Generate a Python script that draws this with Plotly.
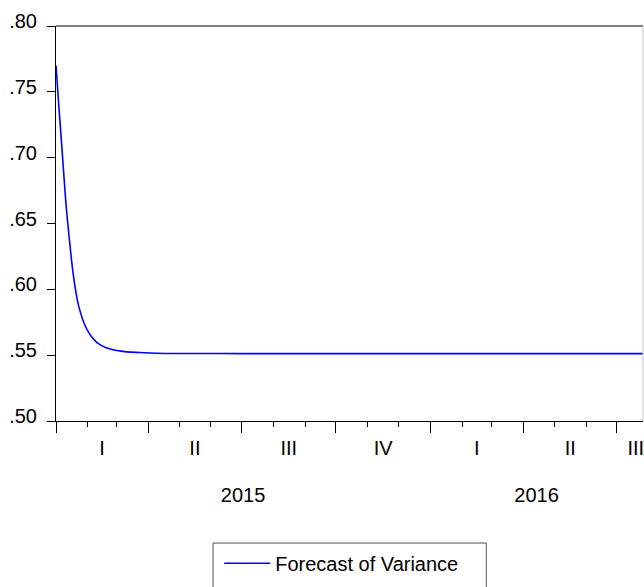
import pandas as pd
import plotly.graph_objects as go

# ---- data ----
dates = ["2015-01-01 00:00", "2015-01-03 12:00", "2015-01-06 05:00", "2015-01-08 10:00",
         "2015-01-11 00:00", "2015-01-14 00:00", "2015-01-17 14:00", "2015-01-23 00:00",
         "2015-01-31 00:00", "2015-02-10 00:00", "2015-02-23 00:00", "2015-03-11 00:00",
         "2015-03-24 00:00", "2015-04-09 00:00", "2015-07-01 00:00", "2016-01-01 00:00",
         "2016-07-26 12:00"]
variance = [0.770, 0.742, 0.7135, 0.6895,
            0.6625, 0.6384, 0.6129, 0.5876,
            0.5698, 0.5596, 0.5546, 0.5525,
            0.5520, 0.5515, 0.5512, 0.5512,
            0.5512]
series_name = "Forecast of Variance"
y_ticks = [0.50, 0.55, 0.60, 0.65, 0.70, 0.75, 0.80]
y_ticktext = [".50", ".55", ".60", ".65", ".70", ".75", ".80"]
quarter_names = ["I", "II", "III", "IV"]
x_start = "2015-01-01"
x_end = "2016-07-26 12:00"

FONT = "Liberation Sans, Arial, sans-serif"
FS = 20

start = pd.Timestamp(x_start)
end = pd.Timestamp(x_end)

# quarter boundaries (major ticks)
q_starts = list(pd.date_range(start, end, freq="QS"))
# quarter label positions (middle of each quarter; partial last quarter kept inside)
q_label_pos, q_label_txt = [], []
for qs in q_starts:
    qe = qs + pd.offsets.QuarterBegin(startingMonth=1)
    if qe <= end:
        mid = qs + (qe - qs) / 2
    else:
        mid = end - pd.Timedelta(days=7)
    q_label_pos.append(mid)
    q_label_txt.append(quarter_names[qs.quarter - 1])

# year label positions
y_label_pos, y_label_txt = [], []
for yr in range(start.year, end.year + 1):
    ys = max(pd.Timestamp(f"{yr}-01-01"), start)
    ye = min(pd.Timestamp(f"{yr + 1}-01-01"), end)
    y_label_pos.append(ys + (ye - ys) / 2)
    y_label_txt.append(str(yr))

fig = go.Figure()
fig.add_trace(go.Scatter(
    x=pd.to_datetime(dates), y=variance, mode="lines", name=series_name,
    line=dict(color="#0000FF", width=1.6, shape="spline", smoothing=0.9),
    xaxis="x", yaxis="y", showlegend=True,
))

common_x = dict(type="date", range=[start, end], showgrid=False, zeroline=False,
                automargin=False, ticklabeloverflow="allow")

fig.update_layout(
    width=644, height=587, autosize=False,
    margin=dict(l=56, r=1, t=26, b=166, autoexpand=False),
    paper_bgcolor="white", plot_bgcolor="white",
    font=dict(family=FONT, size=FS, color="black"),
    xaxis=dict(**common_x, showline=True, linecolor="black", linewidth=1, mirror=False,
               tickmode="array", tickvals=q_starts, ticktext=[""] * len(q_starts),
               ticks="outside", ticklen=11, tickcolor="black", tickwidth=1,
               minor=dict(dtick="M1", tick0=x_start, ticks="outside", ticklen=5,
                          tickcolor="black", tickwidth=1, showgrid=False)),
    xaxis2=dict(**common_x, overlaying="x", anchor="y", side="bottom", showline=False,
                tickmode="array", tickvals=q_label_pos, ticktext=q_label_txt,
                ticks="", ticklabelstandoff=13),
    xaxis3=dict(**common_x, overlaying="x", anchor="y", side="bottom", showline=False,
                tickmode="array", tickvals=y_label_pos, ticktext=y_label_txt,
                ticks="", ticklabelstandoff=60),
    yaxis=dict(range=[0.5, 0.8], showgrid=False, zeroline=False, showline=True,
               linecolor="black", linewidth=1, tickmode="array", tickvals=y_ticks,
               ticktext=y_ticktext, ticks="outside", ticklen=8, tickcolor="black",
               automargin=False, ticklabelshift=-5, ticklabelstandoff=6),
    legend=dict(x=0.278, y=-0.36, xanchor="left", yanchor="middle",
                bgcolor="rgba(0,0,0,0)", borderwidth=0, itemwidth=46,
                font=dict(family=FONT, size=FS)),
    shapes=[
        dict(type="line", xref="paper", yref="paper", x0=0, x1=1, y0=1, y1=1,
             line=dict(color="black", width=1)),
        dict(type="line", xref="paper", yref="paper", x0=1, x1=1, y0=0, y1=1,
             line=dict(color="#c8c8c8", width=1)),
        dict(type="rect", xref="paper", yref="paper", x0=0.2675, x1=0.733,
             y0=-0.309, y1=-0.45, line=dict(color="#555555", width=1)),
    ],
)
# invisible traces so the label axes are drawn
fig.add_trace(go.Scatter(x=[start], y=[None], xaxis="x2", yaxis="y", showlegend=False, hoverinfo="skip"))
fig.add_trace(go.Scatter(x=[start], y=[None], xaxis="x3", yaxis="y", showlegend=False, hoverinfo="skip"))

post = ("document.documentElement.style.margin='0';document.body.style.margin='0';"
        "document.body.style.overflow='hidden';"
        "var gd=document.getElementById('{plot_id}');"
        "Plotly.relayout(gd,{width:644,height:587});")
fig.write_html("out.html", config={"responsive": False, "displayModeBar": False},
               post_script=post)
